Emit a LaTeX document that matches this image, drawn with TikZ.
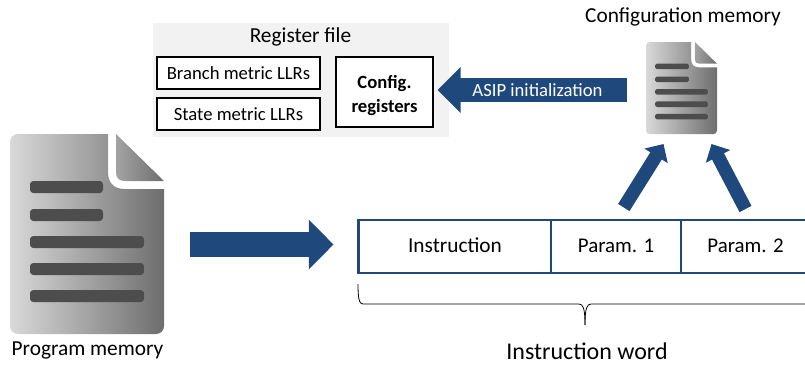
\documentclass[tikz,border=0pt]{standalone}
\usepackage{fontspec}
\setmainfont{Carlito}
\usetikzlibrary{arrows.meta}
\definecolor{navy}{HTML}{1F497D}
\definecolor{docbar}{HTML}{4D4D4D}
\tikzset{
  x=0.75pt,y=-0.75pt,
  blockarrow/.style={draw=navy,line width=#1*0.75pt},
  regbox/.style={draw=black,line width=0.85pt,fill=white,inner sep=0pt,outer sep=0pt,anchor=north west},
  wordcell/.style={draw=navy,line width=2.2pt,fill=white,inner sep=0pt,outer sep=0pt,anchor=north west,minimum height=39.75pt,text height=12pt,text depth=3pt},
  lbl/.style={inner sep=0pt,font=\fontsize{16}{18}\selectfont,text=black},
  docarea/.style={inner sep=0pt,outer sep=0pt,anchor=north west},
}
\newcommand{\docicon}[4]{% x,y,scale,name
  \begin{scope}[shift={(#1,#2)},scale=#3]
    \shade[left color=black!15,right color=black!57]
      (0,8) [rounded corners=6pt*#3] -- (0,0) [sharp corners] -- (98,0) -- (98,38)
      .. controls (98,49) and (104,55) .. (115,55) -- (154,55)
      [rounded corners=6pt*#3] -- (154,200) -- (0,200) [sharp corners] -- cycle;
    \shade[left color=black!36,right color=black!57]
      (106,0) -- (154,47) -- (115,47) .. controls (109,47) and (106,44) .. (106,38) -- cycle;
    \foreach \yy/\xx in {47/93,75/93,102/134,129/134,156/134}
      \fill[docbar,rounded corners=2.5pt*#3] (20,\yy) rectangle (\xx,\yy+12);
  \end{scope}
  \node[docarea,minimum width=115.5pt*#3,minimum height=150pt*#3] (#4) at (#1,#2) {};
}
\begin{document}
\begin{tikzpicture}
\useasboundingbox (0,0) rectangle (805,365);
\fill[black!5] (153,23) rectangle (449,137);
\node[lbl] (regtitle) at (300.5,36.5) {Register file};
\node[regbox,minimum width=122.25pt,minimum height=24pt,font=\fontsize{14}{16}\selectfont] (branch) at (157,57) {Branch metric LLRs};
\node[regbox,minimum width=122.25pt,minimum height=24pt,font=\fontsize{14}{16}\selectfont] (state) at (157,98) {State metric LLRs};
\node[regbox,line width=1.3pt,minimum width=72.75pt,minimum height=52.5pt,align=center,font=\fontsize{14}{17.5}\selectfont\bfseries] (cfgreg) at (336,57) {\rule{0pt}{15pt}Config.\\registers};

\docicon{10}{134}{1}{progmem}
\docicon{646}{42}{0.461}{cfgmem}
\node[lbl] (proglabel) at (87.5,350) {Program memory};
\node[lbl] (cfglabel) at (683,17) {Configuration memory};

\node[wordcell,minimum width=144.75pt,font=\fontsize{16}{18}\selectfont] (instr) at (358.5,220) {Instruction};
\node[wordcell,minimum width=97.5pt,font=\fontsize{15.7}{18}\selectfont] (p1) at (551,220) {Param. 1};
\node[wordcell,minimum width=96.75pt,font=\fontsize{15.7}{18}\selectfont] (p2) at (681,220) {Param. 2};

\coordinate (a1) at (190,244.5);
\coordinate (a2) at (333.5,244.5);
\draw[blockarrow=24.5,-{Triangle[length=18.4pt,width=36pt]}] (a1) -- (a2);
\coordinate (b1) at (627,90);
\coordinate (b2) at (437.5,90);
\draw[blockarrow=23.4,-{Triangle[length=17.3pt,width=33.5pt]}] (b1) -- (b2);
\node[inner sep=0pt,text=white,font=\fontsize{14}{16}\selectfont] (asip) at (537.5,90) {ASIP initialization};
\coordinate (c1) at (623.8,207.5);
\coordinate (c2) at (663.5,144);
\draw[blockarrow=13.5,-{Triangle[length=10.5pt,width=20pt]}] (c1) -- (c2);
\coordinate (d1) at (745.5,209);
\coordinate (d2) at (711.5,144);
\draw[blockarrow=13.5,-{Triangle[length=10.5pt,width=20pt]}] (d1) -- (d2);

\draw[black,line width=0.6pt] (358,284) .. controls (358,298) and (359,304) .. (363,304) -- (579,304) .. controls (583,304) and (585,308) .. (585,325);
\draw[black,line width=0.6pt] (805,304) -- (591,304) .. controls (587,304) and (585,308) .. (585,325);
\node[lbl,font=\fontsize{18}{20}\selectfont] (wordlabel) at (587,351) {Instruction word};
\end{tikzpicture}
\end{document}
